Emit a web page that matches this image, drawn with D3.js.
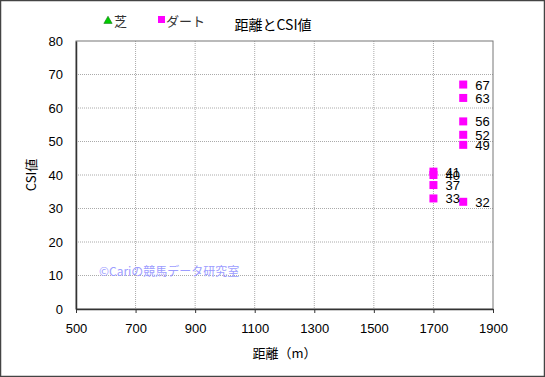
<!DOCTYPE html>
<html>
<head>
<meta charset="utf-8">
<script src="https://cdn.jsdelivr.net/npm/d3@7"></script>
<style>
  body { margin: 0; background: #fff; }
  svg text { font-family: "Liberation Sans", "Noto Sans CJK JP", sans-serif; fill: #000; }
</style>
</head>
<body>
<div id="chart"></div>
<script>
// data
const dirtDist = [1700, 1700, 1700, 1700, 1800, 1800, 1800, 1800, 1800, 1800];
const dirtCsi  = [41, 40, 37, 33, 67, 63, 56, 52, 49, 32];
const turfDist = [];
const turfCsi  = [];
const xTicks = [500, 700, 900, 1100, 1300, 1500, 1700, 1900];
const yTicks = [0, 10, 20, 30, 40, 50, 60, 70, 80];

const width = 545, height = 377;
const plotL = 76, plotR = 493, plotT = 41, plotB = 309;

const svg = d3.select("#chart").append("svg")
  .attr("width", width).attr("height", height);

svg.append("rect")
  .attr("x", 0.5).attr("y", 0.5)
  .attr("width", width - 1).attr("height", height - 1)
  .attr("fill", "#fff").attr("stroke", "#444").attr("stroke-width", 1.5);

const x = d3.scaleLinear().domain([500, 1900]).range([plotL, plotR]);
const y = d3.scaleLinear().domain([0, 80]).range([plotB, plotT]);

// grid
svg.append("g").selectAll("line")
  .data(xTicks.slice(1, -1))
  .join("line")
    .attr("x1", d => x(d)).attr("x2", d => x(d))
    .attr("y1", plotT).attr("y2", plotB)
    .attr("stroke", "#aaa").attr("stroke-dasharray", "1,1");
svg.append("g").selectAll("line")
  .data(yTicks.slice(1, -1))
  .join("line")
    .attr("x1", plotL).attr("x2", plotR)
    .attr("y1", d => y(d)).attr("y2", d => y(d))
    .attr("stroke", "#aaa").attr("stroke-dasharray", "1,1");

// frame
svg.append("rect")
  .attr("x", plotL).attr("y", plotT)
  .attr("width", plotR - plotL).attr("height", plotB - plotT)
  .attr("fill", "none").attr("stroke", "#777").attr("stroke-width", 1);

// axes
const xAxis = svg.append("g")
  .attr("transform", `translate(0,${plotB})`)
  .call(d3.axisBottom(x).tickValues(xTicks).tickFormat(d3.format("d"))
    .tickSize(4).tickSizeOuter(0).tickPadding(8));
const yAxis = svg.append("g")
  .attr("transform", `translate(${plotL},0)`)
  .call(d3.axisLeft(y).tickValues(yTicks).tickSize(0).tickPadding(13));
[xAxis, yAxis].forEach(a => {
  a.select(".domain").attr("stroke", "#333").attr("stroke-width", 1.5);
  a.selectAll(".tick line").attr("stroke", "#333");
  a.selectAll("text").attr("font-size", 13).attr("fill", "#000");
});
xAxis.selectAll("text").attr("dy", "0.9em");

// watermark
svg.append("text")
  .attr("x", 99).attr("y", 276)
  .attr("font-size", 12)
  .style("fill", "#9d9dff")
  .style("font-family", "'Noto Sans CJK JP', sans-serif")
  .text("©Cariの競馬データ研究室");

// points
const pts = dirtDist.map((d, i) => ({ d, v: dirtCsi[i] }));
svg.append("g").selectAll("rect")
  .data(pts)
  .join("rect")
    .attr("x", p => x(p.d) - 4).attr("y", p => y(p.v) - 4)
    .attr("width", 8).attr("height", 8)
    .attr("fill", "#ff00ff");
svg.append("g").selectAll("text")
  .data(pts)
  .join("text")
    .attr("x", p => x(p.d) + 12).attr("y", p => y(p.v) + 5)
    .attr("font-size", 13)
    .text(p => p.v);

svg.append("g").selectAll("path")
  .data(turfDist.map((d, i) => ({ d, v: turfCsi[i] })))
  .join("path")
    .attr("d", d3.symbol(d3.symbolTriangle, 40))
    .attr("transform", p => `translate(${x(p.d)},${y(p.v)})`)
    .attr("fill", "#00cc00");

// title, legend, labels
svg.append("text")
  .attr("x", 273).attr("y", 30)
  .attr("text-anchor", "middle")
  .attr("font-size", 14)
  .style("font-family", "'Noto Sans CJK JP', sans-serif")
  .text("距離とCSI値");

svg.append("path")
  .attr("d", d3.symbol(d3.symbolTriangle, 30))
  .attr("transform", "translate(108,21)")
  .attr("fill", "#00cc00").attr("stroke", "#006600").attr("stroke-width", 0.5);
svg.append("text")
  .attr("x", 114).attr("y", 26).attr("font-size", 13)
  .style("font-family", "'Noto Sans CJK JP', sans-serif").style("fill", "#333")
  .text("芝");
svg.append("rect")
  .attr("x", 158).attr("y", 16).attr("width", 7).attr("height", 7)
  .attr("fill", "#ff00ff");
svg.append("text")
  .attr("x", 166).attr("y", 26).attr("font-size", 13)
  .style("font-family", "'Noto Sans CJK JP', sans-serif").style("fill", "#333")
  .text("ダート");

svg.append("text")
  .attr("transform", `translate(36,${(plotT + plotB) / 2}) rotate(-90)`)
  .attr("text-anchor", "middle")
  .attr("font-size", 13)
  .style("font-family", "'Noto Sans CJK JP', sans-serif")
  .text("CSI値");

svg.append("text")
  .attr("x", (plotL + plotR) / 2).attr("y", 358)
  .attr("text-anchor", "middle")
  .attr("font-size", 13)
  .style("font-family", "'Noto Sans CJK JP', sans-serif")
  .text("距離（m）");
</script>
</body>
</html>
